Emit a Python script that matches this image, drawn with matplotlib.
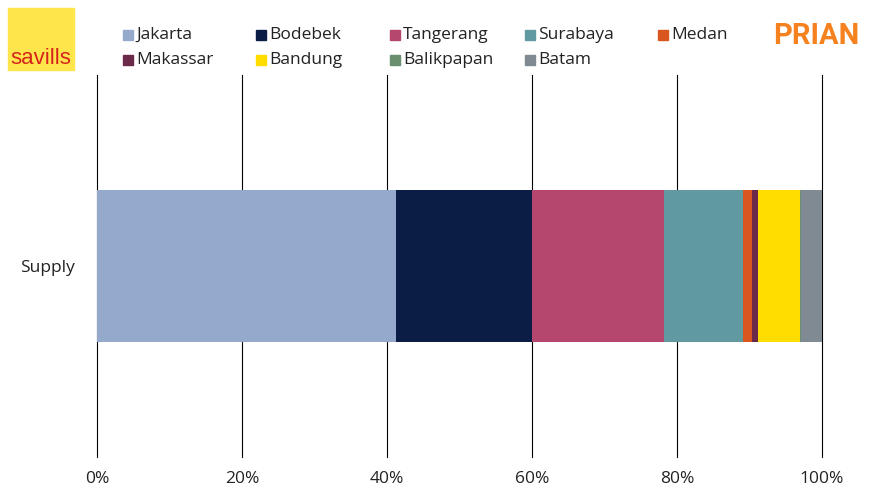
import matplotlib
matplotlib.use("Agg")
import matplotlib.pyplot as plt
from matplotlib.patches import Rectangle

categories = ["Supply"]
regions = ["Jakarta", "Bodebek", "Tangerang", "Surabaya", "Medan",
           "Makassar", "Bandung", "Balikpapan", "Batam"]
shares = [41.2, 18.8, 18.2, 10.9, 1.3, 0.8, 5.8, 0.15, 2.85]
colors = ["#95A9CC", "#0B1D45", "#B5476F", "#6199A0", "#D9561E",
          "#6B2A4A", "#FFDD00", "#6A8F6E", "#7F8A92"]
xticks = [0, 20, 40, 60, 80, 100]
xticklabels = ["0%", "20%", "40%", "60%", "80%", "100%"]

plt.rcParams['font.family'] = ['Open Sans', 'DejaVu Sans']

W, H = 870, 500
fig = plt.figure(figsize=(W / 100, H / 100), dpi=100)
ax = fig.add_axes([97 / W, 1 - 457 / H, (822 - 97) / W, (457 - 75) / H])

left = 0
for name, val, c in zip(regions, shares, colors):
    ax.barh(categories, [val], left=[left], height=0.4, color=c, zorder=3)
    left += val

ax.set_xlim(0, 100)
ax.set_ylim(-0.5, 0.5)
ax.set_xticks(xticks)
ax.set_xticklabels(xticklabels, fontsize=12.5, color="#222222")
ax.tick_params(axis="x", length=0, pad=10)
ax.tick_params(axis="y", length=0, pad=16, labelsize=12.5, labelcolor="#222222")
ax.grid(axis="x", color="black", linewidth=0.8, zorder=1)
for gl in ax.get_xgridlines():
    gl.set_clip_on(False)
for s in ax.spines.values():
    s.set_visible(False)

# legend (manual, fixed column pitch)
col_x = [123, 256, 390, 525, 658]
row_y = [35, 60]
for i, (name, c) in enumerate(zip(regions, colors)):
    r, k = divmod(i, 5)
    x, y = col_x[k], row_y[r]
    sq = 10
    fig.patches.append(Rectangle((x / W, 1 - (y + sq / 2) / H), sq / W, sq / H,
                                 transform=fig.transFigure, color=c))
    fig.text((x + sq + 3) / W, 1 - y / H, name, fontsize=12.5, color="#222222",
             va="center", ha="left")

# savills logo
fig.patches.append(Rectangle((8 / W, 1 - 70 / H), 66 / W, 62 / H,
                             transform=fig.transFigure, color="#FFE54C"))
fig.text(41 / W, 1 - 58 / H, "savills", fontsize=16, color="#D6241C",
         ha="center", va="center", family=['Liberation Sans Narrow', 'Liberation Sans', 'DejaVu Sans'])

# PRIAN logo
fig.text(859 / W, 1 - 36 / H, "PRIAN", fontsize=21, color="#F5821F",
         ha="right", va="center", fontweight="bold", family=['Roboto', 'DejaVu Sans'])

fig.savefig("out.png", dpi=100)
